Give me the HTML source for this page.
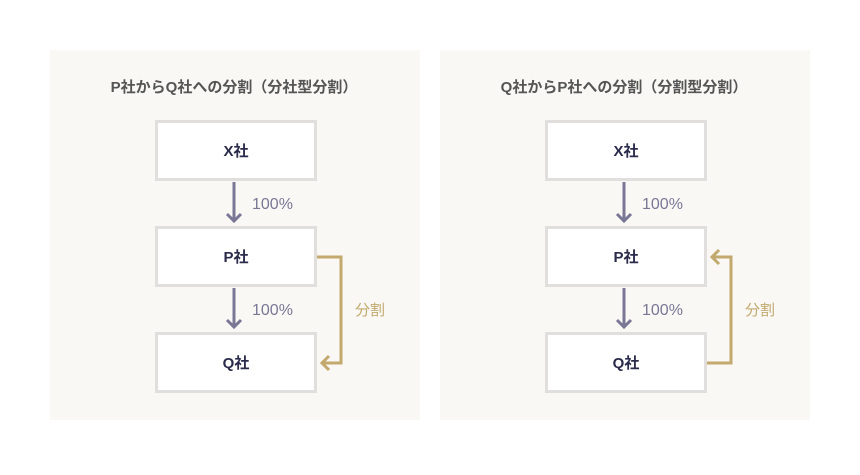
<!DOCTYPE html>
<html><head><meta charset="utf-8"><style>
body{margin:0;width:860px;height:470px;background:#fff;overflow:hidden}
text{font-family:"Liberation Sans","Noto Sans CJK JP",sans-serif}
</style></head><body>
<svg width="860" height="470" viewBox="0 0 860 470">
<defs>
<g id="p">
<rect x="0" y="0" width="370" height="370" fill="#f9f8f4"/>
<rect x="106.5" y="71.5" width="159" height="58" fill="#fff" stroke="#e0dfdd" stroke-width="3"/>
<rect x="106.5" y="177.5" width="159" height="58" fill="#fff" stroke="#e0dfdd" stroke-width="3"/>
<rect x="106.5" y="283.5" width="159" height="58" fill="#fff" stroke="#e0dfdd" stroke-width="3"/>
<g stroke="#7a7796" stroke-width="3" fill="none">
<line x1="184" y1="132" x2="184" y2="171"/><polyline points="177,164 184,171 191,164"/>
<line x1="184" y1="238" x2="184" y2="277"/><polyline points="177,270 184,277 191,270"/>
</g>
<text x="202" y="159" font-size="16" fill="#7a7796">100%</text>
<text x="202" y="265" font-size="16" fill="#7a7796">100%</text>
<text x="186" y="106" font-size="15" font-weight="bold" fill="#2a2a4a" text-anchor="middle">X社</text>
<text x="186" y="212" font-size="15" font-weight="bold" fill="#2a2a4a" text-anchor="middle">P社</text>
<text x="186" y="318" font-size="15" font-weight="bold" fill="#2a2a4a" text-anchor="middle">Q社</text>
<text x="305" y="265" font-size="15" fill="#c2a96e">分割</text>
</g>
</defs>
<use href="#p" x="50" y="50"/>
<use href="#p" x="440" y="50"/>
<text x="234" y="92" font-size="15" font-weight="bold" fill="#555" text-anchor="middle">P社からQ社への分割（分社型分割）</text>
<text x="624" y="92" font-size="15" font-weight="bold" fill="#555" text-anchor="middle">Q社からP社への分割（分割型分割）</text>
<g stroke="#c2a96e" stroke-width="3" fill="none">
<polyline points="317,257 341,257 341,363 322,363"/><polyline points="329,356 322,363 329,370"/>
<polyline points="707,363 731,363 731,257 712,257"/><polyline points="719,250 712,257 719,264"/>
</g>
</svg>
</body></html>
